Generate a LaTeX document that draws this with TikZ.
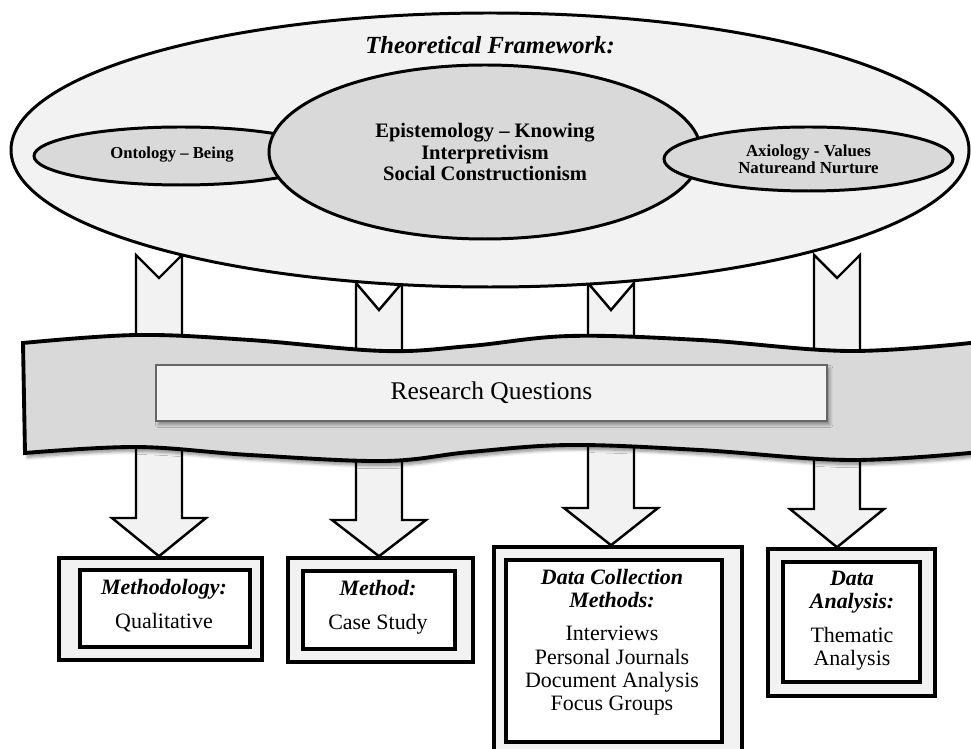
\documentclass[tikz,border=0pt]{standalone}
\usepackage{fontspec}
\setmainfont{Liberation Serif}
\usepackage{xcolor}
\usepackage{tikz}
\usetikzlibrary{shapes.geometric, shadows.blur}

\definecolor{palegray}{HTML}{F2F2F2}
\definecolor{midgray}{HTML}{D9D9D9}
\newcommand{\pxu}{0.02cm}
\newcommand{\boxhead}[1]{\textbf{\textit{#1}}}
\newcommand{\notcharrow}[5]{%
  \draw[blockarrow] (#1-23,#2) -- (#1,#3) -- (#1+23,#2) -- (#1+23,#4) -- (#1+47,#4)
    -- (#1,0 |- #5.north) -- (#1-47,#4) -- (#1-23,#4) -- cycle;}

\begin{document}
\begin{tikzpicture}[
    x=0.02cm, y=-0.02cm,
    oval/.style={
        ellipse,
        draw,
        line width=1.7pt,
        inner sep=0pt,
        align=center,
        fill=midgray
    },
    blockarrow/.style={draw, line width=1.4pt, fill=palegray, line join=miter},
    outerbox/.style={draw, line width=2pt, fill=palegray, inner sep=0pt},
    innerbox/.style={draw, line width=2pt, fill=white, inner sep=0pt},
    boxtext/.style={align=center, inner sep=0pt, font=\fontsize{12.5}{13.2}\selectfont},
    banner/.style={draw, line width=2.2pt, fill=midgray,
        blur shadow={shadow xshift=1.5pt, shadow yshift=-2.5pt, shadow blur steps=6, shadow opacity=45}},
    qbox/.style={draw=black!60, line width=0.6pt, fill=palegray, inner sep=0pt,
        font=\fontsize{14.5}{16}\selectfont,
        blur shadow={shadow xshift=1.5pt, shadow yshift=-2pt, shadow blur steps=4, shadow opacity=40}}
]
\useasboundingbox (0,0) rectangle (971,749);

% bottom boxes
\node[outerbox, minimum width=203*\pxu, minimum height=102*\pxu] (methodology) at (160.5,609) {};
\node[innerbox, minimum width=170*\pxu, minimum height=77*\pxu] (methodologyin) at (165,608.5) {};
\node[boxtext] (methodologytext) at (164,606) {\boxhead{Methodology:}\\[6pt]Qualitative};

\node[outerbox, minimum width=185*\pxu, minimum height=104*\pxu] (method) at (380.5,610) {};
\node[innerbox, minimum width=152*\pxu, minimum height=78*\pxu] (methodin) at (379,610) {};
\node[boxtext] (methodtext) at (378,607) {\boxhead{Method:}\\[6pt]Case Study};

\node[outerbox, minimum width=248*\pxu, minimum height=213*\pxu] (collection) at (618,653.5) {};
\node[innerbox, minimum width=216*\pxu, minimum height=182*\pxu] (collectionin) at (614,651) {};
\node[boxtext] (collectiontext) at (612,642) {\boxhead{Data Collection}\\\boxhead{Methods:}\\[6pt]
    Interviews\\Personal Journals\\Document Analysis\\Focus Groups};

\node[outerbox, minimum width=167*\pxu, minimum height=147*\pxu] (analysis) at (851.5,622.5) {};
\node[innerbox, minimum width=137*\pxu, minimum height=120*\pxu] (analysisin) at (851.5,622) {};
\node[boxtext] (analysistext) at (852,621) {\boxhead{Data}\\\boxhead{Analysis:}\\[6pt]Thematic\\Analysis};

% block arrows
\notcharrow{159}{255}{278}{518}{methodology}
\notcharrow{379}{283}{310}{520}{method}
\notcharrow{611}{283}{310}{508}{collection}
\notcharrow{837}{255}{278}{509}{analysis}

% wavy banner
\draw[banner] plot[smooth, tension=0.6] coordinates {(23,343) (137,335) (250,340) (384,351) (470,346)
        (570,336) (700,340) (850,351) (980,342)}
    -- plot[smooth, tension=0.6] coordinates {(980,452) (850,460) (700,450) (570,445) (470,452)
        (384,461) (250,455) (137,447) (25,453)}
    -- cycle;
\node[qbox, minimum width=671*\pxu, minimum height=56*\pxu] (questions) at (491.5,393) {Research Questions};

% theoretical framework
\node[oval, fill=palegray, minimum width=958*\pxu, minimum height=274*\pxu] (framework) at (490,150) {};
\node[font=\fontsize{14}{16}\selectfont\bfseries\itshape] (frameworktitle) at (490,45) {Theoretical Framework:};
\node[oval, minimum width=294*\pxu, minimum height=58*\pxu] (ontology) at (181,156) {};
\node[font=\fontsize{9.5}{11}\selectfont\bfseries] (ontologytext) at (172,155) {Ontology -- Being};
\node[oval, font=\fontsize{11.7}{12}\selectfont\bfseries, minimum width=432*\pxu, minimum height=174*\pxu]
    (epistemology) at (485,152) {Epistemology -- Knowing\\Interpretivism\\Social Constructionism};
\node[oval, font=\fontsize{9.6}{9.6}\selectfont\bfseries, minimum width=289*\pxu, minimum height=64*\pxu]
    (axiology) at (808.5,159) {Axiology - Values\\Natureand Nurture};

\end{tikzpicture}
\end{document}
